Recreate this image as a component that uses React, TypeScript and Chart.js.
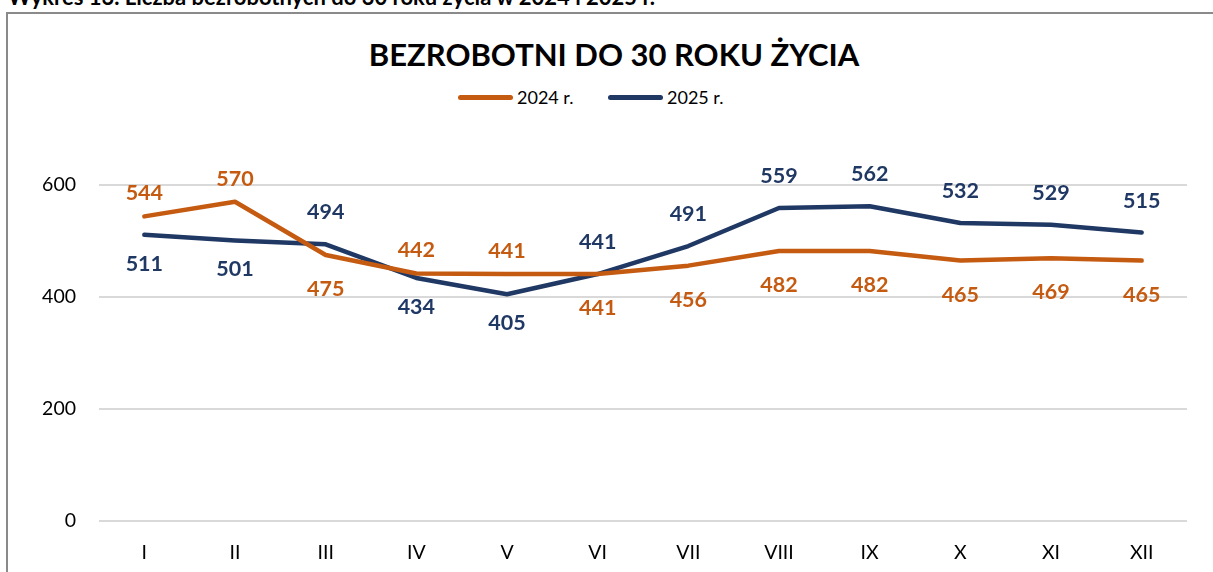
import React, { useEffect, useRef } from "react";
import { Chart, registerables } from "chart.js";

Chart.register(...registerables);

const categories = ["I", "II", "III", "IV", "V", "VI", "VII", "VIII", "IX", "X", "XI", "XII"];
const values2024 = [544, 570, 475, 442, 441, 441, 456, 482, 482, 465, 469, 465];
const values2025 = [511, 501, 494, 434, 405, 441, 491, 559, 562, 532, 529, 515];
const labelSide2024 = ["top", "top", "bottom", "top", "top", "bottom", "bottom", "bottom", "bottom", "bottom", "bottom", "bottom"];
const labelSide2025 = ["bottom", "bottom", "top", "bottom", "bottom", "top", "top", "top", "top", "top", "top", "top"];
const seriesNames = ["2024 r.", "2025 r."];
const yMin = 0;
const yMax = 600;
const yStep = 200;

const chartTitle = "BEZROBOTNI DO 30 ROKU ŻYCIA";
const caption = "Wykres 13. Liczba bezrobotnych do 30 roku życia w 2024 i 2025 r.";

const ORANGE = "#C55A11";
const NAVY = "#203864";
const FONT = "Lato, 'Open Sans', sans-serif";

const dataLabelPlugin = {
  id: "dataLabels",
  afterDatasetsDraw(chart: any) {
    const ctx = chart.ctx;
    ctx.save();
    ctx.font = `bold 21.5px ${FONT}`;
    ctx.textAlign = "center";
    ctx.textBaseline = "middle";
    chart.data.datasets.forEach((ds: any, i: number) => {
      const meta = chart.getDatasetMeta(i);
      ctx.fillStyle = ds.borderColor;
      meta.data.forEach((pt: any, j: number) => {
        const side = ds.labelSides[j];
        const y = side === "top" ? pt.y - ds.offsetTop : pt.y + ds.offsetBottom;
        ctx.fillText(String(ds.data[j]), pt.x, y);
      });
    });
    ctx.restore();
  },
};

export default function App() {
  const canvasRef = useRef<HTMLCanvasElement | null>(null);

  useEffect(() => {
    if (!canvasRef.current) return;
    const chart = new Chart(canvasRef.current, {
      type: "line",
      data: {
        labels: categories,
        datasets: [
          {
            label: seriesNames[0],
            data: values2024,
            borderColor: ORANGE,
            backgroundColor: ORANGE,
            borderWidth: 4.5,
            pointRadius: 0,
            tension: 0,
            borderCapStyle: "round",
            borderJoinStyle: "round",
            labelSides: labelSide2024,
            offsetTop: 23,
            offsetBottom: 34,
          } as any,
          {
            label: seriesNames[1],
            data: values2025,
            borderColor: NAVY,
            backgroundColor: NAVY,
            borderWidth: 4.5,
            pointRadius: 0,
            tension: 0,
            borderCapStyle: "round",
            borderJoinStyle: "round",
            labelSides: labelSide2025,
            offsetTop: 32,
            offsetBottom: 29,
          } as any,
        ],
      },
      options: {
        animation: false,
        responsive: false,
        maintainAspectRatio: false,
        layout: { padding: { left: 0, right: 26, top: 75, bottom: 0 } },
        plugins: {
          legend: { display: false },
          title: { display: false },
          tooltip: { enabled: false },
        },
        scales: {
          x: {
            offset: true,
            grid: { display: false, drawTicks: false },
            border: { display: false },
            ticks: {
              color: "#000",
              font: { family: FONT, size: 19.5 },
              padding: 20,
              maxRotation: 0,
            },
            afterFit(scale: any) {
              scale.height = 51;
            },
          },
          y: {
            min: yMin,
            max: yMax,
            grid: { color: "#d9d9d9", lineWidth: 2, drawTicks: false },
            border: { display: false },
            ticks: {
              stepSize: yStep,
              color: "#000",
              font: { family: FONT, size: 19.5 },
              padding: 23,
            },
            afterFit(scale: any) {
              scale.width = 99;
            },
          },
        },
      },
      plugins: [dataLabelPlugin],
    });
    return () => chart.destroy();
  }, []);

  const legendItem = (color: string, text: string, left: number) => (
    <div style={{ position: "absolute", left, top: 88, height: 18, display: "flex", alignItems: "center" }}>
      <div style={{ width: 55, height: 5, borderRadius: 3, background: color, marginRight: 4 }} />
      <span style={{ font: `18px ${FONT}`, lineHeight: "18px", color: "#000" }}>{text}</span>
    </div>
  );

  return (
    <div
      style={{
        position: "fixed",
        left: 0,
        top: 0,
        width: 1213,
        height: 572,
        overflow: "hidden",
        background: "#fff",
        fontFamily: FONT,
      }}
    >
      <div
        style={{
          position: "absolute",
          left: 8,
          top: -14,
          font: `bold 22px ${FONT}`,
          lineHeight: "22px",
          color: "#000",
          whiteSpace: "nowrap",
        }}
      >
        {caption}
      </div>
      <div
        style={{
          position: "absolute",
          left: 6,
          top: 12,
          width: 1240,
          height: 620,
          border: "2px solid #8a8a8a",
          boxSizing: "border-box",
        }}
      />
      <div
        style={{
          position: "absolute",
          left: 614,
          top: 39,
          transform: "translateX(-50%)",
          font: `bold 31px ${FONT}`,
          lineHeight: "31px",
          color: "#000",
          whiteSpace: "nowrap",
        }}
      >
        {chartTitle}
      </div>
      {legendItem(ORANGE, seriesNames[0], 458)}
      {legendItem(NAVY, seriesNames[1], 608)}
      <canvas
        ref={canvasRef}
        width={1213}
        height={462}
        style={{ position: "absolute", left: 0, top: 110, width: 1213, height: 462 }}
      />
    </div>
  );
}
